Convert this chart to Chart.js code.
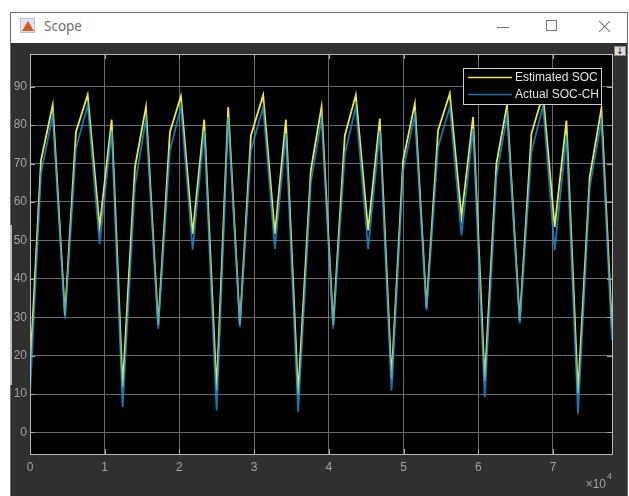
<!DOCTYPE html>
<html><head><meta charset="utf-8">
<script src="https://cdn.jsdelivr.net/npm/chart.js@4.4.0/dist/chart.umd.min.js"></script>
<style>
html,body{margin:0;padding:0;background:#fff;width:629px;height:496px;overflow:hidden;font-family:"Liberation Sans",Arial,sans-serif;}
.a{position:absolute;}
#frame{left:10px;top:12px;width:618px;height:490px;border:1px solid #6e6e6e;box-sizing:border-box;background:#303030;}
#title{left:11px;top:13px;width:616px;height:30px;background:#fff;}
#scope{left:44px;top:17px;font-family:"Noto Sans",sans-serif;font-size:13.5px;color:#707070;}
#icon{left:20px;top:18px;width:15px;height:15px;background:#dfe6ee;border:1px solid #b8c2cc;box-sizing:border-box;overflow:hidden;}
#icon div{position:absolute;left:1px;top:2px;width:0;height:0;border-left:6px solid transparent;border-right:6px solid transparent;border-bottom:10px solid #d9561d;}
#mn{left:497px;top:27px;width:12px;height:1px;background:#777;}
#mx{left:546px;top:20px;width:11px;height:11px;border:1px solid #777;box-sizing:border-box;}
.cl{left:597px;top:26px;width:15px;height:1px;background:#777;}
#wrap{left:11px;top:43px;width:616px;height:453px;}
#dl{left:614px;top:46px;width:12px;height:10px;background:#dcdcdc;border:1px solid #8a8a8a;box-sizing:border-box;font-size:9px;line-height:8px;text-align:center;color:#222;font-family:"DejaVu Sans",sans-serif;}
#edge{left:10px;top:225px;width:2px;height:160px;background:#bdbdbd;}
</style></head>
<body>
<div id="frame" class="a"></div>
<div id="title" class="a"></div>
<div id="icon" class="a"><div></div></div>
<div id="scope" class="a">Scope</div>
<div id="mn" class="a"></div>
<div id="mx" class="a"></div>
<div class="a cl" style="transform:rotate(45deg)"></div>
<div class="a cl" style="transform:rotate(-45deg)"></div>
<div id="edge" class="a"></div>
<div id="wrap" class="a"><canvas id="c" width="616" height="453"></canvas></div>
<div id="dl" class="a">↓</div>
<script>
// time in seconds
const t = [0,1470,3040,4680,6150,7720,9320,10930,12400,14050,15520,17160,18730,20200,21770,23320,24980,26530,28090,29570,31210,32780,34250,35890,37590,39020,40580,42140,43610,45260,46820,48390,49940,51510,53070,54620,56190,57750,59300,60870,62430,63850,65550,67120,68670,70230,71800,73350,74920,76480,77900];
const estimatedSOC = [16,70.8,85.2,30.5,78.2,87.9,53.5,81.4,11.8,69.1,84.7,28,78.2,87.5,51.7,81.4,11,84.7,28,77.3,87.8,51.7,81.4,10,68.2,84.7,28,77.3,87.8,52.6,81.7,14,70.8,85.6,32.5,78.6,88.2,56.1,82.1,13.5,70,85.2,29,77.8,88,53.5,81.2,10.2,66.5,84.3,27];
const actualSOC = [10,67.4,82.6,29.6,73.9,85.2,49,78.6,6.6,64.3,81.7,27,73.4,84.7,47.6,78.6,5.7,82.1,27.4,73.4,84.7,47.8,77.8,5.3,65,81.7,27,72.5,84.7,47.8,78.6,10.9,68.2,82.6,31.8,74.3,84.7,51.3,79.1,9.2,66.5,82.6,28.3,73,85,47.4,77.3,4.9,63.9,81.2,24];
const seriesNames = ["Estimated SOC","Actual SOC-CH"];
const yTicks = [0,10,20,30,40,50,60,70,80,90];
const xTicks = [0,10000,20000,30000,40000,50000,60000,70000];
const xExponentLabel = ["×10","4"];

const tickColor = '#a2a2a2';
const gridColor = '#6a6a6a';

const scopePlugin = {
  id:'scope',
  beforeDraw(chart){
    const {ctx, chartArea:a} = chart;
    ctx.save(); ctx.fillStyle='#000'; ctx.fillRect(a.left,a.top,a.right-a.left,a.bottom-a.top); ctx.restore();
  },
  afterDraw(chart){
    const {ctx, chartArea:a, scales} = chart;
    ctx.save();
    ctx.strokeStyle='#a8a8a8'; ctx.lineWidth=1;
    ctx.beginPath();
    yTicks.forEach(v=>{const y=Math.round(scales.y.getPixelForValue(v))+0.5; ctx.moveTo(a.right-5,y); ctx.lineTo(a.right,y); ctx.moveTo(a.left,y); ctx.lineTo(a.left+5,y);});
    xTicks.forEach(v=>{const x=Math.round(scales.x.getPixelForValue(v))+0.5; ctx.moveTo(x,a.top); ctx.lineTo(x,a.top+5); ctx.moveTo(x,a.bottom); ctx.lineTo(x,a.bottom-5);});
    ctx.stroke();
    ctx.strokeStyle='#b8b8b8';
    ctx.strokeRect(Math.round(a.left)+0.5,Math.round(a.top)+0.5,Math.round(a.right-a.left),Math.round(a.bottom-a.top));
    const lx=452, ly=25, lw=138, lh=36;
    ctx.fillStyle='#000'; ctx.fillRect(lx,ly,lw,lh);
    ctx.strokeStyle='#cfcfcf'; ctx.strokeRect(lx+0.5,ly+0.5,lw,lh);
    ctx.font='12px "Liberation Sans", Arial, sans-serif';
    ctx.textBaseline='middle'; ctx.textAlign='left';
    [0,1].forEach((i,k)=>{
      const ds=chart.data.datasets[i];
      const yy=ly+9.5+k*17;
      ctx.strokeStyle=ds.borderColor; ctx.lineWidth=1.6;
      ctx.beginPath(); ctx.moveTo(lx+5,yy); ctx.lineTo(lx+49,yy); ctx.stroke();
      ctx.fillStyle='#e4e4e4'; ctx.fillText(ds.label,lx+52,yy+0.5);
    });
    ctx.fillStyle=tickColor; ctx.textAlign='right'; ctx.textBaseline='middle';
    ctx.font='12px "Liberation Sans", Arial, sans-serif';
    ctx.fillText(xExponentLabel[0],595,442);
    ctx.textAlign='left'; ctx.font='9px "Liberation Sans", Arial, sans-serif';
    ctx.fillText(xExponentLabel[1],596,434);
    ctx.restore();
  }
};

new Chart(document.getElementById('c'),{
  type:'line',
  data:{datasets:[
    {label:seriesNames[0], data:t.map((x,i)=>({x, y:estimatedSOC[i]})), borderColor:'#eaea3a', borderWidth:1.8, pointRadius:0, tension:0, order:2},
    {label:seriesNames[1], data:t.map((x,i)=>({x, y:actualSOC[i]})), borderColor:'rgba(28,150,225,0.78)', borderWidth:1.8, pointRadius:0, tension:0, order:1}
  ]},
  options:{
    responsive:false, animation:false, events:[],
    layout:{padding:{top:11,right:15,left:0,bottom:0}},
    plugins:{legend:{display:false},tooltip:{enabled:false}},
    scales:{
      x:{type:'linear', min:0, max:77900,
        afterBuildTicks:s=>{s.ticks=xTicks.map(v=>({value:v}));},
        afterFit:s=>{s.height=42;},
        grid:{color:gridColor, drawTicks:false},
        border:{display:false},
        ticks:{color:tickColor, padding:6, maxRotation:0, autoSkip:false, font:{family:'"Liberation Sans", Arial, sans-serif', size:12}, callback:v=>String(v/10000)}
      },
      y:{type:'linear', min:-5.6, max:98.5,
        afterBuildTicks:s=>{s.ticks=yTicks.map(v=>({value:v}));},
        afterFit:s=>{s.width=19;},
        grid:{color:gridColor, drawTicks:false},
        border:{display:false},
        ticks:{color:tickColor, padding:3, autoSkip:false, font:{family:'"Liberation Sans", Arial, sans-serif', size:12}}
      }
    }
  },
  plugins:[scopePlugin]
});
</script>
</body></html>
